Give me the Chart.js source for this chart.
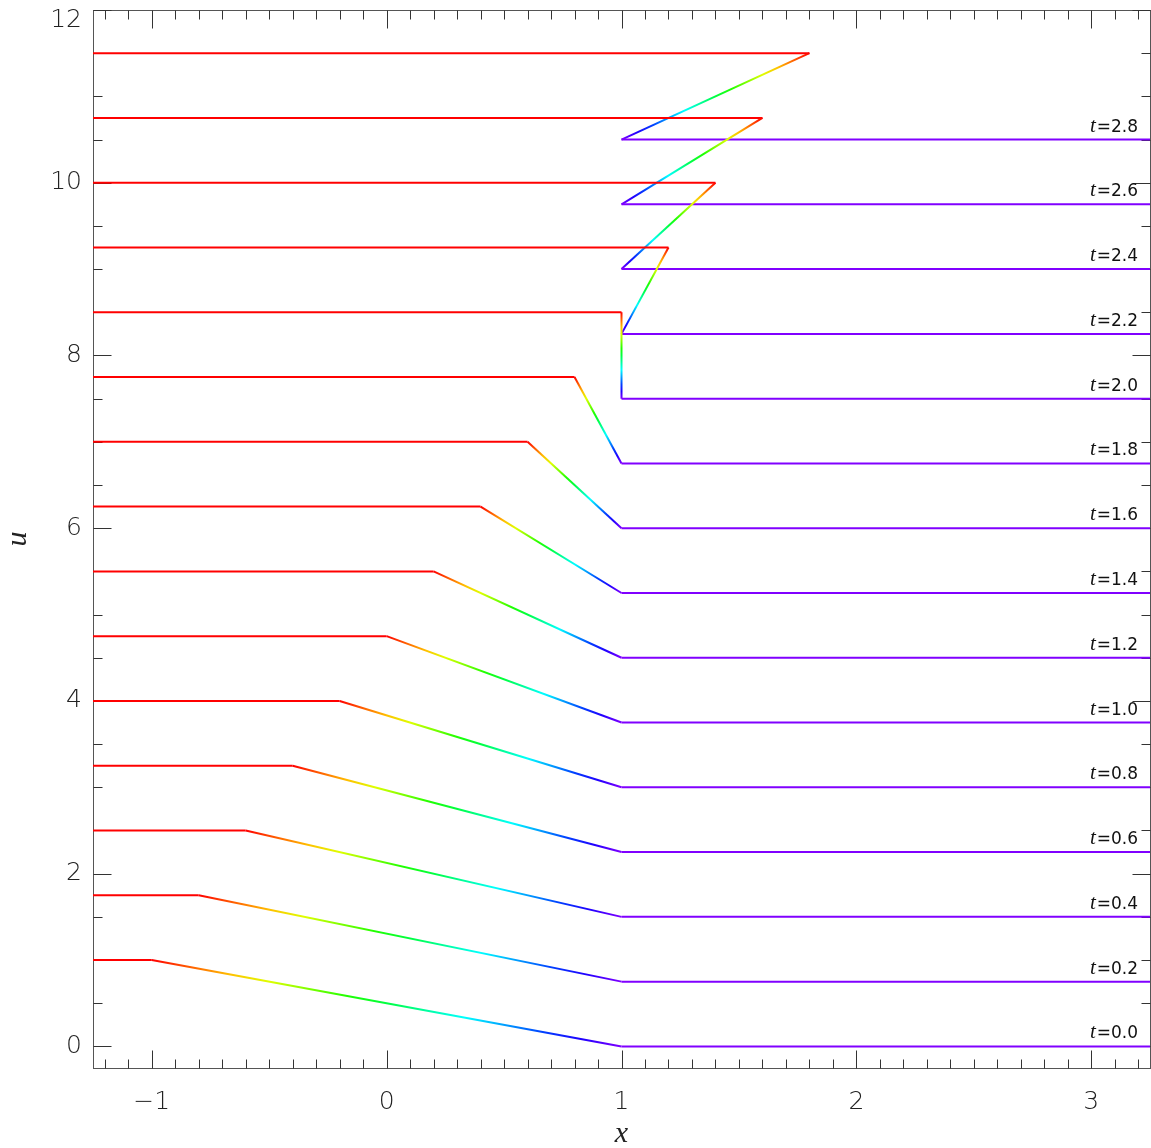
<!DOCTYPE html>
<html>
<head>
<meta charset="utf-8">
<script src="https://cdn.jsdelivr.net/npm/chart.js@4/dist/chart.umd.min.js"></script>
<style>
    html, body { margin: 0; padding: 0; background: #fff; }
    #box { width: 1151px; height: 1148px; position: relative; }
</style>
</head>
<body>
<div id="box"><canvas id="profiles"></canvas></div>
<script>
// one profile per output time, stacked upwards
const times = [0.0, 0.2, 0.4, 0.6, 0.8, 1.0, 1.2, 1.4, 1.6, 1.8, 2.0, 2.2, 2.4, 2.6, 2.8];
const shifts = [0, 0.75, 1.5, 2.25, 3.0, 3.75, 4.5, 5.25, 6.0, 6.75, 7.5, 8.25, 9.0, 9.75, 10.5];
// x where u leaves its upper state, and where it reaches the lower one
const crestX = [-1.0, -0.8, -0.6, -0.4, -0.2, 0.0, 0.2, 0.4, 0.6, 0.8, 1.0, 1.2, 1.4, 1.6, 1.8];
const footX = [1, 1, 1, 1, 1, 1, 1, 1, 1, 1, 1, 1, 1, 1, 1];
const uHigh = 1;
const uLow = 0;
const xFrom = -1.25;
const xTo = 3.25;

const tickFont = { family: '"DejaVu Sans", sans-serif', size: 25, weight: 200 };

// red at u=1 running through to violet at u=0
const rainbow = (u) => `hsl(${270 * (1 - u)}, 100%, 50%)`;

const isMultiple = (v, step) => Math.abs(v / step - Math.round(v / step)) < 1e-9;

// tick values every `step` strictly inside [lo, hi]
const tickRun = (lo, hi, step) => {
    const out = [];
    for (let k = Math.ceil(lo / step + 1e-9); k * step < hi - 1e-9; k++) {
        out.push({ value: Math.round(k * step * 100) / 100 });
    }
    return out;
};

const datasets = times.map((t, i) => {
    const xs = [xFrom, crestX[i], footX[i], xTo];
    const us = [uHigh, uHigh, uLow, uLow];
    return {
        label: `t=${t.toFixed(1)}`,
        data: xs.map((x, k) => ({ x, y: us[k] + shifts[i] })),
        showLine: true,
        pointRadius: 0,
        borderWidth: 2,
        borderColor: rainbow(uHigh),
        segment: {
            borderColor: (ctx) => {
                const u0 = us[ctx.p0DataIndex];
                const u1 = us[ctx.p1DataIndex];
                if (u0 === u1) return rainbow(u0);
                const g = ctx.chart.ctx.createLinearGradient(ctx.p0.x, ctx.p0.y, ctx.p1.x, ctx.p1.y);
                for (let k = 0; k <= 12; k++) {
                    g.addColorStop(k / 12, rainbow(u0 + (u1 - u0) * k / 12));
                }
                return g;
            }
        }
    };
});

// boxed frame with inward ticks on all four sides, plus the time tags
const frameTicks = {
    id: 'frameTicks',
    beforeDatasetsDraw(chart) {
        const { ctx, chartArea: a, scales: { x, y } } = chart;
        const L = Math.round(a.left) + 0.5, R = Math.round(a.right) + 0.5;
        const T = Math.round(a.top) + 0.5, B = Math.round(a.bottom) + 0.5;
        ctx.save();
        ctx.lineWidth = 1;
        ctx.strokeStyle = '#555';
        ctx.strokeRect(L, T, R - L, B - T);
        ctx.strokeStyle = '#333';
        ctx.beginPath();
        x.ticks.forEach(({ value }) => {
            const len = isMultiple(value, 1) ? 18 : 9;
            const px = Math.round(x.getPixelForValue(value)) + 0.5;
            ctx.moveTo(px, B); ctx.lineTo(px, B - len);
            ctx.moveTo(px, T); ctx.lineTo(px, T + len);
        });
        y.ticks.forEach(({ value }) => {
            const len = isMultiple(value, 2) ? 18 : 9;
            const py = Math.round(y.getPixelForValue(value)) + 0.5;
            ctx.moveTo(L, py); ctx.lineTo(L + len, py);
            ctx.moveTo(R, py); ctx.lineTo(R - len, py);
        });
        ctx.stroke();
        ctx.restore();
    },
    afterDatasetsDraw(chart) {
        const { ctx, chartArea: a, scales: { y } } = chart;
        ctx.save();
        ctx.fillStyle = '#111';
        ctx.textAlign = 'right';
        ctx.textBaseline = 'alphabetic';
        times.forEach((t, i) => {
            const py = y.getPixelForValue(shifts[i] + uLow) - 8;
            const px = a.right - 12;
            const rest = '=' + t.toFixed(1);
            ctx.font = '17px "DejaVu Sans", sans-serif';
            ctx.fillText(rest, px, py);
            const w = ctx.measureText(rest).width;
            ctx.font = 'italic 21px "Liberation Serif", serif';
            ctx.fillText('t', px - w - 1, py);
        });
        ctx.restore();
    }
};

new Chart(document.getElementById('profiles'), {
    type: 'scatter',
    data: { datasets },
    plugins: [frameTicks],
    options: {
        animation: false,
        responsive: true,
        maintainAspectRatio: false,
        layout: { padding: { top: 10, right: 1, bottom: 0, left: 0 } },
        plugins: {
            legend: { display: false },
            tooltip: { enabled: false }
        },
        scales: {
            x: {
                type: 'linear',
                position: 'bottom',
                min: xFrom,
                max: xTo,
                afterBuildTicks: (s) => { s.ticks = tickRun(xFrom, xTo, 0.1); },
                grid: { display: false, drawTicks: false },
                border: { display: false },
                ticks: {
                    autoSkip: false,
                    maxRotation: 0,
                    padding: 19,
                    color: '#222',
                    font: tickFont,
                    callback: (v) => isMultiple(v, 1) ? (v < 0 ? '\u2212' + Math.abs(Math.round(v)) : String(Math.round(v))) : ''
                },
                title: {
                    display: true, text: 'x', color: '#222',
                    font: { family: '"Liberation Serif", serif', size: 30, style: 'italic', lineHeight: 0.9 },
                    padding: { top: 0, bottom: 0 }
                },
                afterFit: (s) => { s.height = 80; s.paddingLeft = 0; s.paddingRight = 0; }
            },
            y: {
                type: 'linear',
                position: 'left',
                min: -0.25,
                max: 12,
                afterBuildTicks: (s) => { s.ticks = tickRun(-0.25, 12.25, 0.5); },
                grid: { display: false, drawTicks: false },
                border: { display: false },
                ticks: {
                    autoSkip: false,
                    padding: 11,
                    color: '#222',
                    font: { ...tickFont, lineHeight: 0.8 },
                    callback: (v) => {
                        if (!isMultiple(v, 2)) return '';
                        return v === 12 ? ['', '12'] : String(v);
                    }
                },
                title: {
                    display: true, text: 'u', color: '#222',
                    font: { family: '"Liberation Serif", serif', size: 30, style: 'italic', lineHeight: 1.2 },
                    padding: { top: 0, bottom: 0 }
                },
                afterFit: (s) => { s.width = 93; s.paddingTop = 0; s.paddingBottom = 0; }
            }
        }
    }
});
</script>
</body>
</html>
